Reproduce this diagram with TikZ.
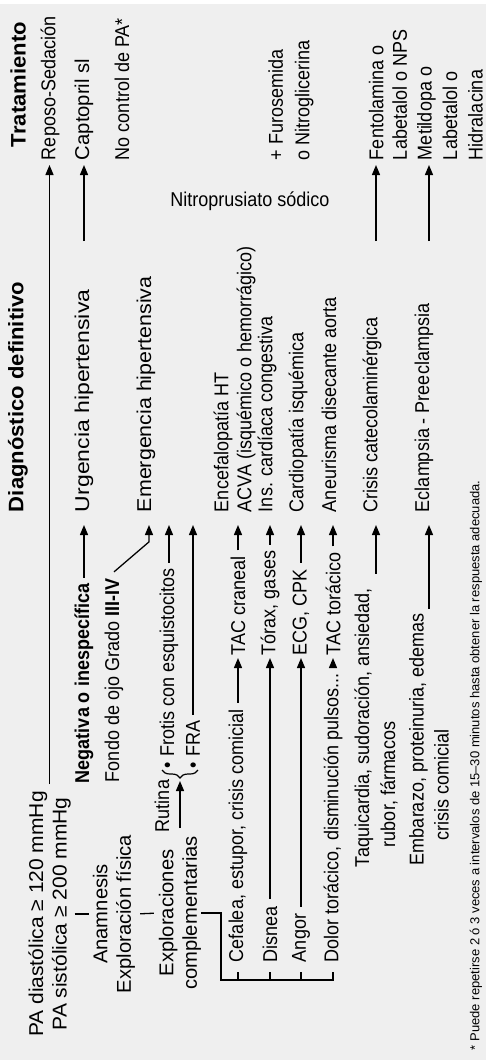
\documentclass[tikz,border=0pt]{standalone}
\usepackage{fontspec}
\setmainfont{Liberation Sans}
\newfontfamily\fC{Liberation Sans}[FakeStretch=0.9]
\newfontfamily\fA{Liberation Sans}[FakeStretch=1.01]
\newfontfamily\fH{Liberation Sans}[FakeStretch=1.05]
\newfontfamily\fU{Liberation Sans}[FakeStretch=1.15]
\newfontfamily\fE{Liberation Sans}[FakeStretch=1.07]
\usetikzlibrary{arrows.meta,calc,decorations.pathreplacing}
\definecolor{bg}{RGB}{239,239,239}
\begin{document}
\begin{tikzpicture}[x=1pt,y=-1pt,
  every node/.style={inner sep=0pt, outer sep=0pt},
  txt/.style={rotate=90, font=\fC\fontsize{20}{23.5}\selectfont},
  big/.style={rotate=90, font=\fH\fontsize{20}{23.5}\selectfont},
  hd/.style={rotate=90, font=\fH\fontsize{21}{23}\selectfont\bfseries},
  lw/.style={line width=1.3pt},
  arr/.style={line width=1.3pt, -{Triangle[length=10pt,width=8pt]}},
]
\fill[white] (0,0) rectangle (486,1060);
\fill[bg] (0,4) rectangle (486,1060);
\useasboundingbox (0,0) rectangle (486,1060);
\coordinate (r) at (0,241);

% headers
\node[hd, anchor=west] (trat) at (18,147) {Tratamiento};
\node[hd, anchor=west] (diag) at (18,512) {Diagnóstico definitivo};

% treatments
\node[txt, anchor=west] (repo) at (50,160) {Reposo-Sedación};
\node[txt, anchor=west, font=\fA\fontsize{20}{23.5}\selectfont] (capt) at (84,160) {Captopril sl};
\node[txt, anchor=west] (noc) at (122,160) {No control de PA*};
\node[txt, anchor=west, align=left] (furo) at (291,160) {+ Furosemida\\[3pt]o Nitroglicerina};
\node[txt, anchor=west, align=left] (fent) at (388,160) {Fentolamina o\\Labetalol o NPS};
\node[txt, anchor=west, align=left, font=\fC\fontsize{20}{25.5}\selectfont] (meti) at (450,160) {Metildopa o\\Labetalol o\\Hidralacina};
\node[font=\fC\fontsize{20}{22}\selectfont] (nitro) at (250,201) {Nitroprusiato sódico};

% diagnoses
\node[txt, anchor=west, font=\fU\fontsize{20}{23.5}\selectfont] (urg) at (84,512) {Urgencia hipertensiva};
\node[txt, anchor=west, font=\fE\fontsize{20}{23.5}\selectfont] (emer) at (146,512) {Emergencia hipertensiva};
\node[txt, anchor=west] (ence) at (223,512) {Encefalopatía HT};
\node[txt, anchor=west] (acva) at (246,512) {ACVA (isquémico o hemorrágico)};
\node[txt, anchor=west] (ins) at (267,512) {Ins. cardíaca congestiva};
\node[txt, anchor=west] (card) at (298,512) {Cardiopatía isquémica};
\node[txt, anchor=west] (aneu) at (329,512) {Aneurisma disecante aorta};
\node[txt, anchor=west] (cris) at (372,512) {Crisis catecolaminérgica};
\node[txt, anchor=west] (ecl) at (424,512) {Eclampsia - Preeclampsia};

% middle
\node[txt, anchor=west, font=\fC\fontsize{20}{23.5}\selectfont\bfseries] (neg) at (84,783) {Negativa o inespecífica};
\node[txt, anchor=west] (fondo) at (114,782) {Fondo de ojo Grado \textbf{III-IV}};
\node[txt, anchor=west] (rut) at (162,832) {Rutina};
\node[txt, anchor=west] (frot) at (169,768) {• Frotis con esquistocitos};
\node[txt, anchor=west] (fra) at (193,768) {• FRA};

% left
\node[big, align=center] (pa) at (49.5,914) {PA diastólica ≥ 120 mmHg\\PA sistólica ≥ 200 mmHg};
\node[big, align=center, font=\fA\fontsize{20}{23.5}\selectfont] (anam) at (114,914) {Anamnesis\\Exploración física};
\node[big, align=center, font=\fA\fontsize{20}{23.5}\selectfont] (expl) at (180,913) {Exploraciones\\complementarias};

% symptoms
\node[txt, anchor=west] (cef) at (238,962) {Cefalea, estupor, crisis comicial};
\node[txt, anchor=west] (dis) at (270,962) {Disnea};
\node[txt, anchor=west] (ang) at (301,962) {Angor};
\node[txt, anchor=west] (dol) at (333,962) {Dolor torácico, disminución pulsos...};

% tests
\node[txt, anchor=west] (t1) at (238,655) {TAC craneal};
\node[txt, anchor=west] (t2) at (270,655) {Tórax, gases};
\node[txt, anchor=west] (t3) at (301,655) {ECG, CPK};
\node[txt, anchor=west] (t4) at (333,655) {TAC torácico};

\node[txt, anchor=west, align=left, font=\fC\fontsize{20}{26}\selectfont] (taq) at (376,867) {Taquicardia, sudoración, ansiedad,\\\hspace*{20pt}rubor, fármacos};
\node[txt, anchor=west, align=left, font=\fC\fontsize{20}{25}\selectfont] (emb) at (429,865) {Embarazo, proteinuria, edemas\\\hspace*{25pt}crisis comicial};

\node[rotate=90, anchor=west, font=\fontsize{13}{15}\selectfont] (foot) at (476,1050) {* Puede repetirse 2 ó 3 veces a intervalos de 15–30 minutos hasta obtener la respuesta adecuada.};

% connectors left
\draw[lw, shorten <=4pt, shorten >=4pt] (pa.south) -- (anam.north);
\draw[lw, shorten <=5pt, shorten >=5pt] (anam.south) -- (expl.north);
\draw[arr, shorten <=7pt, shorten >=5pt] (pa.east) -- (pa.east |- repo.west);

% bracket
\coordinate (brk) at (221,980);
\draw[lw] (expl.south) -| (brk) -| ($(dol.west)+(0,10)$);
\foreach \n in {cef,dis,ang}
  \draw[lw] ($(\n.west)+(0,10)$) -- (\n.west |- brk);

% symptom -> test -> diagnosis
\foreach \a/\b in {cef/t1,dis/t2,ang/t3,dol/t4}{
  \draw[arr, shorten <=7pt, shorten >=3pt] (\a.east) -- (\b.west);
  \draw[arr, shorten <=6pt, shorten >=13pt] (\b.east) -- (\b.east |- ence.west);
}

% rutina
\coordinate (btip) at (180,781);
\draw[line width=1.2pt, decorate, decoration={brace, amplitude=8pt}] (198,770) -- (162,770);
\draw[arr, shorten <=8pt] (expl.east) -- (btip);
\draw[arr, shorten <=6pt, shorten >=13pt] (frot.east) -- (frot.east |- emer.west);
\draw[arr, shorten <=6pt, shorten >=13pt] (fra.east) -- (fra.east |- emer.west);

% negativa / fondo
\draw[arr, shorten <=6pt, shorten >=13pt] (neg.east) -- (neg.east |- urg.west);
\path ($(fondo.east)+(0,-7)$) coordinate (fs) ++(35,-30) coordinate (fk);
\draw[arr, shorten >=13pt] (fs) -- (fk) -- (fk |- emer.west);

% taq / emb
\draw[arr, shorten <=15pt, shorten >=13pt] (taq.east) -- (taq.east |- cris.west);
\draw[arr, shorten <=5pt, shorten >=13pt] (emb.east) -- (emb.east |- ecl.west);

% treatment arrows
\draw[arr, shorten >=5pt] (capt.west |- r) -- (capt.west);
\draw[arr, shorten >=5pt] (taq.east |- r) -- (taq.east |- fent.west);
\draw[arr, shorten >=5pt] (emb.east |- r) -- (emb.east |- meti.west);
\end{tikzpicture}
\end{document}
